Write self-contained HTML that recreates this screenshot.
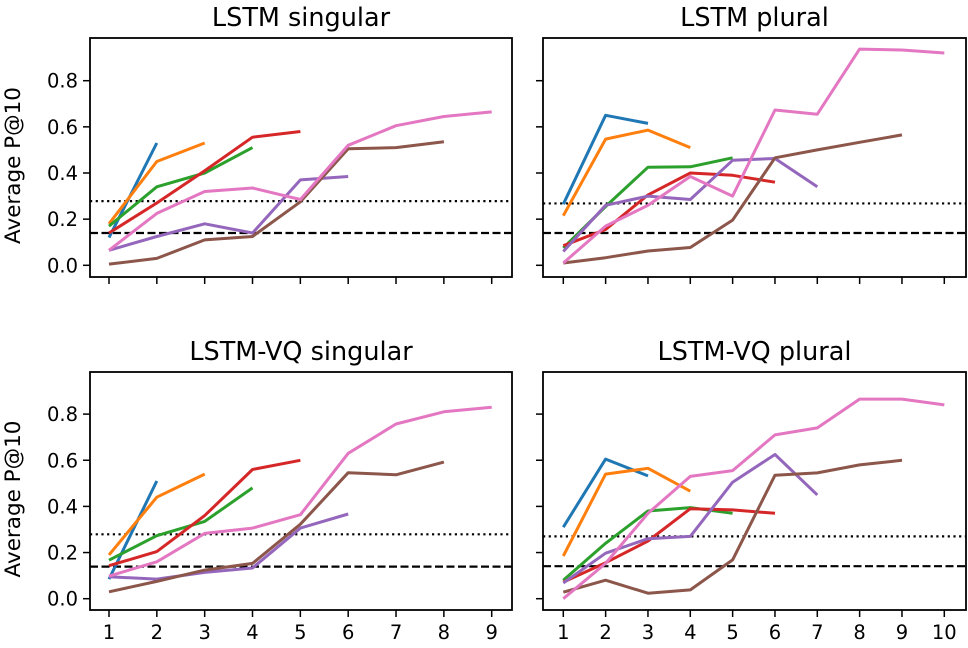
<!DOCTYPE html>
<html><head><meta charset="utf-8"><style>
body{margin:0;background:#fff}
svg{display:block;font-family:"DejaVu Sans","Liberation Sans",sans-serif}
</style></head><body>
<svg id="c" width="968" height="648" xmlns="http://www.w3.org/2000/svg"></svg>
<script>
const colors=['#1f77b4','#ff7f0e','#2ca02c','#d62728','#9467bd','#8c564b','#e377c2'];
const seriesNames=['blue','orange','green','red','purple','brown','pink'];
const yTicks=[0.0,0.2,0.4,0.6,0.8];
const yTickLabels=['0.0','0.2','0.4','0.6','0.8'];
const titles=['LSTM singular','LSTM plural','LSTM-VQ singular','LSTM-VQ plural'];
const xMaxes=[9,10,9,10];
const dotted=[0.278,0.268,0.279,0.27];
const dashed=[0.14,0.14,0.139,0.141];
const lstmSing=[[0.12,0.53],[0.18,0.45,0.53],[0.17,0.34,0.40,0.51],[0.14,0.27,0.41,0.555,0.58],[0.065,0.125,0.18,0.14,0.37,0.385],[0.005,0.03,0.11,0.125,0.275,0.505,0.51,0.535],[0.065,0.225,0.32,0.335,0.285,0.52,0.605,0.645,0.665]];
const lstmPlur=[[0.265,0.65,0.615],[0.215,0.547,0.586,0.51],[0.075,0.255,0.425,0.427,0.466],[0.085,0.155,0.305,0.40,0.39,0.36],[0.06,0.26,0.30,0.285,0.455,0.463,0.34],[0.01,0.033,0.062,0.077,0.196,0.466,0.5,0.533,0.565],[0.01,0.17,0.26,0.385,0.30,0.673,0.655,0.937,0.933,0.92]];
const vqSing=[[0.085,0.51],[0.19,0.44,0.54],[0.167,0.273,0.335,0.48],[0.143,0.204,0.36,0.56,0.60],[0.095,0.085,0.114,0.133,0.306,0.367],[0.03,0.075,0.124,0.153,0.323,0.546,0.537,0.592],[0.098,0.16,0.283,0.306,0.364,0.63,0.757,0.81,0.83]];
const vqPlur=[[0.31,0.605,0.532],[0.185,0.54,0.565,0.466],[0.08,0.24,0.38,0.395,0.37],[0.072,0.156,0.25,0.39,0.385,0.37],[0.068,0.197,0.26,0.27,0.505,0.625,0.45],[0.028,0.08,0.024,0.038,0.168,0.535,0.545,0.58,0.6],[0.0,0.153,0.37,0.53,0.555,0.71,0.74,0.865,0.865,0.84]];
const panelData=[lstmSing,lstmPlur,vqSing,vqPlur];
const NS='http://www.w3.org/2000/svg';
const svg=document.getElementById('c');
function mk(tag,attrs,parent){const e=document.createElementNS(NS,tag);for(const k in attrs)e.setAttribute(k,attrs[k]);(parent||svg).appendChild(e);return e;}
const boxes=[{l:90,r:512,t:38,b:277},{l:543,r:966,t:38,b:277},{l:90,r:512,t:372,b:610},{l:543,r:966,t:372,b:610}];
const yZero=[265.3,265.3,598.7,598.7];
const yScale=[230.75,230.75,230.75,230.75];
for(let p=0;p<4;p++){
  const B=boxes[p];
  const g=mk('g',{});
  
  
  const xm=xMaxes[p];
  const x1=p%2==0?109:563.3, x9=p%2==0?491.7:944.3;
  const xs=v=>x1+(v-1)*(x9-x1)/(xm-1);
  const ys=v=>yZero[p]-v*yScale[p];
  const t=mk('text',{x:(B.l+B.r)/2,y:B.t-12,'text-anchor':'middle','font-size':'25.5'},g);t.textContent=titles[p];
  
  const dl=mk('line',{x1:B.l,x2:B.r,y1:ys(dotted[p]),y2:ys(dotted[p]),stroke:'#000','stroke-width':2.2,'stroke-dasharray':'2.2,3.5'},g);
  
  const dd=mk('line',{x1:B.l,x2:B.r,y1:ys(dashed[p]),y2:ys(dashed[p]),stroke:'#000','stroke-width':2.2,'stroke-dasharray':'8,3.5'},g);
  
  panelData[p].forEach((arr,i)=>{
    const pts=arr.map((v,j)=>xs(j+1).toFixed(1)+','+ys(v).toFixed(1)).join(' ');
    const pl=mk('polyline',{points:pts,fill:'none',stroke:colors[i],'stroke-width':3,'stroke-linejoin':'round'},g);
    
    
  });
  const fr=mk('rect',{x:B.l,y:B.t,width:B.r-B.l,height:B.b-B.t,fill:'none',stroke:'#000','stroke-width':1.8},g);
  
  for(let v=1;v<=xm;v++){
    mk('line',{x1:xs(v),x2:xs(v),y1:B.b,y2:B.b+7,stroke:'#000','stroke-width':1.5},g);
    if(p>=2){const tl=mk('text',{x:xs(v),y:B.b+29,'text-anchor':'middle','font-size':'19.5'},g);tl.textContent=v;
      }
  }
  yTicks.forEach((v,k)=>{
    mk('line',{x1:B.l-7,x2:B.l,y1:ys(v),y2:ys(v),stroke:'#000','stroke-width':1.5},g);
    if(p%2==0){const tl=mk('text',{x:B.l-12,y:ys(v)+7,'text-anchor':'end','font-size':'19.5'},g);tl.textContent=yTickLabels[k];
      }
  });
  if(p%2==0){
    const cy=(B.t+B.b)/2+8;
    const yl=mk('text',{x:20,y:cy,'text-anchor':'middle','font-size':'21.5',transform:'rotate(-90 20 '+cy+')'},g);
    yl.textContent='Average P@10';
    
  }
}
</script>
</body></html>
